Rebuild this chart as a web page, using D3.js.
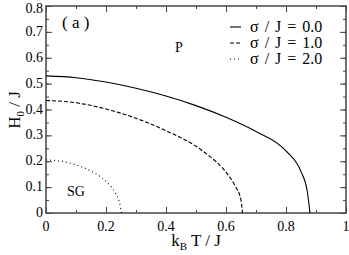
<!DOCTYPE html>
<html>
<head>
<meta charset="utf-8">
<script src="https://cdn.jsdelivr.net/npm/d3@7"></script>
<style>
  body { margin: 0; background: #fff; }
  svg text { font-family: "Liberation Serif", "Times New Roman", serif; fill: #000; }
</style>
</head>
<body>
<script>
// curves
var tSolid = [0, 0.1, 0.2, 0.3, 0.4, 0.5, 0.6, 0.7, 0.8, 0.85, 0.87, 0.88];
var hSolid = [0.53, 0.523, 0.506, 0.482, 0.452, 0.415, 0.37, 0.315, 0.24, 0.16, 0.09, 0];
var tDash = [0, 0.1, 0.2, 0.3, 0.4, 0.5, 0.55, 0.6, 0.63, 0.65, 0.655];
var hDash = [0.435, 0.426, 0.402, 0.366, 0.318, 0.258, 0.215, 0.158, 0.105, 0.05, 0];
var tDot = [0, 0.05, 0.1, 0.15, 0.2, 0.23, 0.245, 0.252];
var hDot = [0.205, 0.2, 0.186, 0.162, 0.122, 0.08, 0.04, 0];

var legendLabels = ['\u03c3 / J = 0.0', '\u03c3 / J = 1.0', '\u03c3 / J = 2.0'];
var dashes = ['none', '4,2', '1,3'];
var xTicks = [0, 0.2, 0.4, 0.6, 0.8, 1];
var yTicks = [0, 0.1, 0.2, 0.3, 0.4, 0.5, 0.6, 0.7, 0.8];

var W = 349, H = 255;
var margin = {top: 6, right: 3, bottom: 42, left: 46};
var width = W - margin.left - margin.right;
var height = H - margin.top - margin.bottom;

var svg = d3.select('body').append('svg')
    .attr('width', W)
    .attr('height', H);

var g = svg.append('g')
    .attr('transform', 'translate(' + margin.left + ',' + margin.top + ')');

var x = d3.scaleLinear().domain([0, 1]).range([0, width]);
var y = d3.scaleLinear().domain([0, 0.8]).range([height, 0]);

var axisColor = '#444';

// minor + major ticks, inward on all four sides
function ticks(sel, axis) {
    sel.call(axis);
    sel.select('.domain').remove();
    sel.selectAll('line').attr('stroke', axisColor).attr('stroke-width', 1);
}

var xMinor = d3.range(0, 1.001, 0.1);
var yMinor = d3.range(0, 0.801, 0.05);

g.append('g').attr('transform', 'translate(0,' + height + ')')
    .call(ticks, d3.axisBottom(x).tickValues(xMinor).tickSize(-3).tickFormat(''));
g.append('g').attr('transform', 'translate(0,' + height + ')')
    .call(ticks, d3.axisBottom(x).tickValues(xTicks).tickSize(-6).tickFormat(''));
g.append('g')
    .call(ticks, d3.axisTop(x).tickValues(xMinor).tickSize(-3).tickFormat(''));
g.append('g')
    .call(ticks, d3.axisTop(x).tickValues(xTicks).tickSize(-6).tickFormat(''));
g.append('g')
    .call(ticks, d3.axisLeft(y).tickValues(yMinor).tickSize(-3).tickFormat(''));
g.append('g')
    .call(ticks, d3.axisLeft(y).tickValues(yTicks).tickSize(-6).tickFormat(''));
g.append('g').attr('transform', 'translate(' + width + ',0)')
    .call(ticks, d3.axisRight(y).tickValues(yMinor).tickSize(-3).tickFormat(''));
g.append('g').attr('transform', 'translate(' + width + ',0)')
    .call(ticks, d3.axisRight(y).tickValues(yTicks).tickSize(-6).tickFormat(''));

g.append('rect')
    .attr('width', width)
    .attr('height', height)
    .attr('fill', 'none')
    .attr('stroke', axisColor)
    .attr('stroke-width', 1.5);

// tick labels
g.selectAll('.xlab').data(xTicks).enter().append('text')
    .attr('x', function (d) { return x(d); })
    .attr('y', height + 18)
    .attr('text-anchor', 'middle')
    .style('font-size', '14px')
    .text(function (d) { return d3.format('~g')(d); });

g.selectAll('.ylab').data(yTicks).enter().append('text')
    .attr('x', -3)
    .attr('y', function (d) { return Math.max(y(d) + 4, 7); })
    .attr('text-anchor', 'end')
    .style('font-size', '14px')
    .text(function (d) { return d === 0 ? '0' : d.toFixed(1); });

// axis titles
var xt = svg.append('text')
    .attr('x', 196)
    .attr('y', 246)
    .attr('text-anchor', 'middle')
    .style('font-size', '17px');
xt.append('tspan').text('k');
xt.append('tspan').attr('dy', 4).style('font-size', '11px').text('B');
xt.append('tspan').attr('dy', -4).text(' T / J');

var yt = svg.append('text')
    .attr('transform', 'translate(20,110) rotate(-90)')
    .attr('text-anchor', 'middle')
    .style('font-size', '17px');
yt.append('tspan').text('H');
yt.append('tspan').attr('dy', 4).style('font-size', '11px').text('0');
yt.append('tspan').attr('dy', -4).text(' / J');

// curves
var line = d3.line()
    .x(function (d) { return x(d[0]); })
    .y(function (d) { return y(d[1]); })
    .curve(d3.curveMonotoneX);

var series = [
    d3.zip(tSolid, hSolid),
    d3.zip(tDash, hDash),
    d3.zip(tDot, hDot)
];

g.selectAll('.curve').data(series).enter().append('path')
    .attr('d', line)
    .attr('fill', 'none')
    .attr('stroke', '#000')
    .attr('stroke-width', 1.1)
    .attr('stroke-dasharray', function (d, i) { return dashes[i]; });

// annotations
svg.append('text').attr('x', 62).attr('y', 28).style('font-size', '17px').text('( a )');
svg.append('text').attr('x', 175).attr('y', 52).style('font-size', '14px').text('P');
svg.append('text').attr('x', 67).attr('y', 196).style('font-size', '14px').text('SG');

// legend
var leg = svg.selectAll('.leg').data(legendLabels).enter().append('g')
    .attr('transform', function (d, i) { return 'translate(230,' + (27 + i * 16) + ')'; });
leg.append('line')
    .attr('x1', 0).attr('x2', 11)
    .attr('stroke', '#000')
    .attr('stroke-width', 1.1)
    .attr('stroke-dasharray', function (d, i) { return dashes[i]; });
leg.append('text')
    .attr('x', 20)
    .attr('y', 5)
    .style('font-size', '16px')
    .style('word-spacing', '2px')
    .text(function (d) { return d; });
</script>
</body>
</html>
